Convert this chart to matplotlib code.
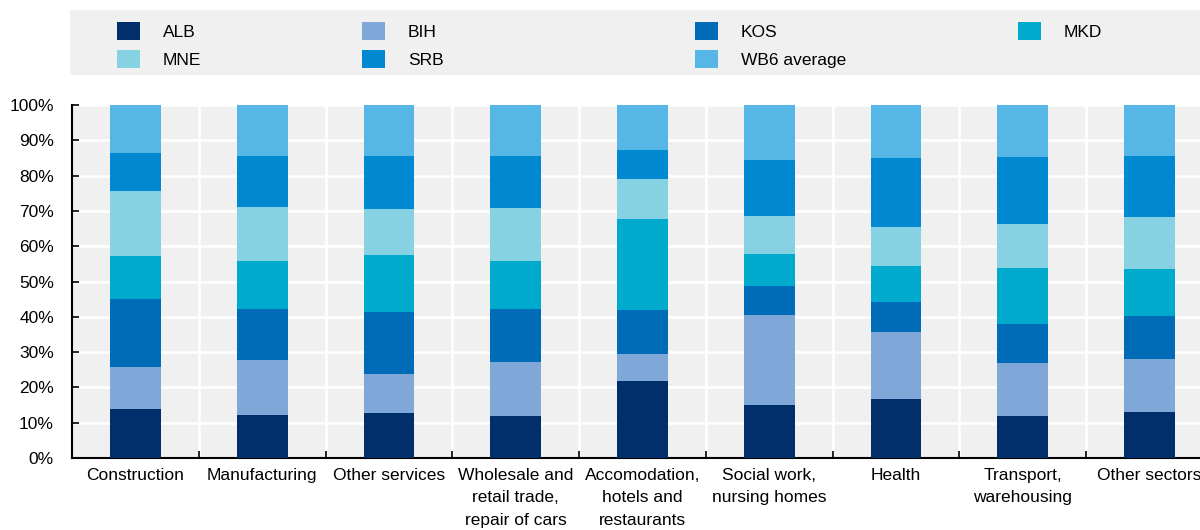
import matplotlib
matplotlib.use("Agg")
import matplotlib.pyplot as plt
from matplotlib import font_manager
from matplotlib.patches import Rectangle
import numpy as np

fams = {f.name for f in font_manager.fontManager.ttflist}
FONT = 'Liberation Sans Narrow' if 'Liberation Sans Narrow' in fams else 'Liberation Sans'
plt.rcParams['font.family'] = [FONT, 'DejaVu Sans']

categories = ["Construction", "Manufacturing", "Other services",
              "Wholesale and\nretail trade,\nrepair of cars",
              "Accomodation,\nhotels and\nrestaurants",
              "Social work,\nnursing homes", "Health",
              "Transport,\nwarehousing", "Other sectors"]
series = ["ALB", "BIH", "KOS", "MKD", "MNE", "SRB", "WB6 average"]
ALB = [13.9, 12.2, 12.7, 11.8, 21.8, 15.1, 16.6, 11.8, 13.0]
BIH = [11.9, 15.5, 11.0, 15.5, 7.7, 25.4, 19.0, 15.2, 15.1]
KOS = [19.3, 14.6, 17.6, 15.0, 12.4, 8.3, 8.6, 11.0, 12.2]
MKD = [12.0, 13.6, 16.2, 13.6, 25.9, 9.0, 10.2, 15.8, 13.3]
MNE = [18.5, 15.3, 13.1, 14.8, 11.3, 10.8, 11.1, 12.6, 14.6]
SRB = [10.7, 14.3, 14.9, 14.8, 8.1, 15.8, 19.4, 18.8, 17.3]
WB6 = [13.7, 14.5, 14.5, 14.5, 12.8, 15.6, 15.1, 14.8, 14.5]
values = [ALB, BIH, KOS, MKD, MNE, SRB, WB6]
ytick_labels = ["0%", "10%", "20%", "30%", "40%", "50%", "60%", "70%", "80%", "90%", "100%"]

colors = ["#002F6C", "#7FA8D9", "#006BB6", "#00AACC", "#86D2E3", "#0089D0", "#56B7E6"]
BG = "#F0F0F0"

W, H = 1200, 530
fig = plt.figure(figsize=(12, 5.3), dpi=100)
ax = fig.add_axes([72 / W, (H - 458) / H, 1141 / W, (458 - 105) / H])
ax.set_facecolor(BG)

x = np.arange(len(categories))
bottom = np.zeros(len(categories))
for name, vals, c in zip(series, values, colors):
    v = np.array(vals, dtype=float)
    ax.bar(x, v, width=0.4, bottom=bottom, color=c, linewidth=0, zorder=3, label=name)
    bottom += v

ax.set_xlim(-0.5, len(categories) - 0.5)
ax.set_ylim(0, 100)
ax.set_yticks(np.arange(0, 101, 10))
ax.set_yticklabels(ytick_labels, fontsize=12.5)
ax.set_xticks(x)
ax.set_xticklabels(categories, fontsize=12.5, linespacing=1.62)
ax.set_xticks(np.arange(0.5, len(categories) - 0.5, 1), minor=True)
ax.tick_params(axis='x', which='major', length=0, pad=7)
ax.tick_params(axis='x', which='minor', direction='in', length=5, width=1.2, color='black')
ax.tick_params(axis='y', direction='in', length=5, width=1.2, pad=13)
ax.grid(True, axis='y', color='white', linewidth=1.8, zorder=0)
ax.grid(True, axis='x', which='minor', color='white', linewidth=1.8, zorder=0)
ax.set_axisbelow(True)
for s in ['top', 'right']:
    ax.spines[s].set_visible(False)
for s in ['left', 'bottom']:
    ax.spines[s].set_linewidth(1.5)
    ax.spines[s].set_color('black')

# legend panel
fig.patches.append(Rectangle((70 / W, (H - 75) / H), (W - 70) / W, 65 / H,
                             transform=fig.transFigure, facecolor=BG, edgecolor='none', zorder=0))
col_x = [117, 362, 695, 1018]
row_y = [31, 59]
for i, (name, c) in enumerate(zip(series, colors)):
    r, k = divmod(i, 4)
    cx, cy = col_x[k], row_y[r]
    fig.patches.append(Rectangle((cx / W, (H - cy - 9) / H), 23 / W, 18 / H,
                                 transform=fig.transFigure, facecolor=c, edgecolor='none', zorder=1))
    fig.text((cx + 46) / W, (H - cy - 1.5) / H, name, fontsize=12.5, va='center', ha='left')

fig.savefig("out.png", dpi=100)
